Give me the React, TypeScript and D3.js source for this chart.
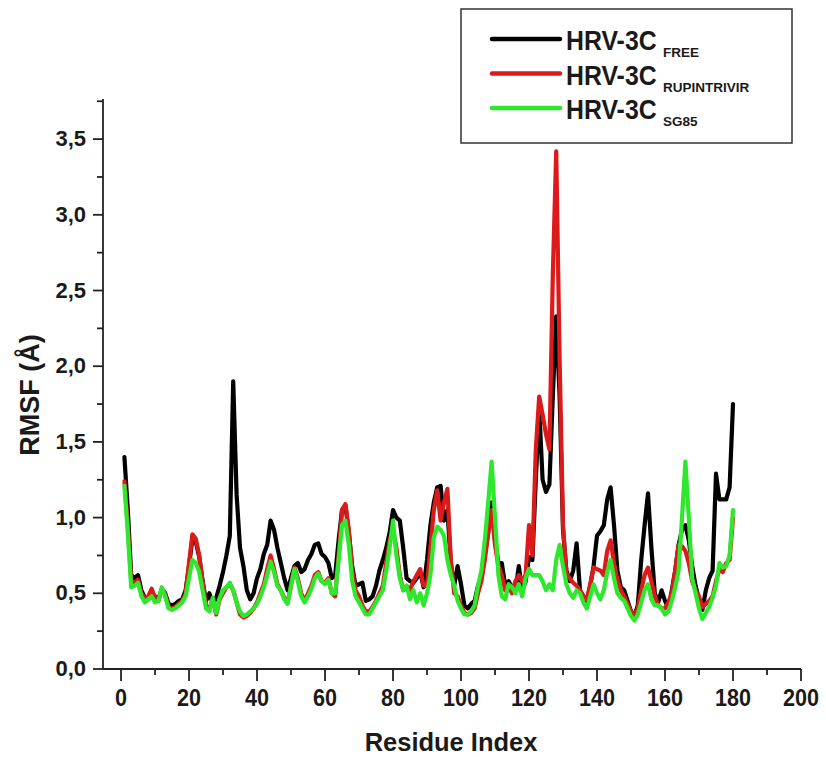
import React from "react";
import * as d3 from "d3";

// RMSF per residue (Å), residues 1..180
const residues: number[] = d3.range(1, 181);

const rmsfFree: number[] = [
  1.40, 1.05, 0.62, 0.60, 0.62, 0.52, 0.47, 0.46, 0.50, 0.48,
  0.46, 0.53, 0.50, 0.43, 0.42, 0.43, 0.45, 0.46, 0.52, 0.68,
  0.86, 0.84, 0.74, 0.58, 0.45, 0.50, 0.43, 0.47, 0.55, 0.64,
  0.75, 0.88, 1.90, 1.15, 0.80, 0.68, 0.52, 0.46, 0.50, 0.60,
  0.66, 0.76, 0.82, 0.98, 0.92, 0.80, 0.70, 0.60, 0.52, 0.60,
  0.68, 0.70, 0.64, 0.66, 0.72, 0.76, 0.82, 0.83, 0.76, 0.74,
  0.70, 0.60, 0.62, 0.85, 1.05, 1.08, 0.90, 0.68, 0.55, 0.56,
  0.57, 0.45, 0.46, 0.48, 0.55, 0.65, 0.72, 0.80, 0.90, 1.05,
  1.00, 0.98, 0.80, 0.60, 0.58, 0.57, 0.60, 0.64, 0.54, 0.72,
  0.95, 1.10, 1.20, 1.21, 0.98, 1.05, 0.70, 0.55, 0.68, 0.56,
  0.42, 0.40, 0.43, 0.45, 0.55, 0.60, 0.75, 0.90, 1.10, 0.85,
  0.70, 0.70, 0.55, 0.58, 0.54, 0.52, 0.68, 0.52, 0.58, 0.74,
  0.72, 1.25, 1.72, 1.25, 1.17, 1.22, 1.80, 2.33, 1.80, 0.92,
  0.65, 0.58, 0.65, 0.83, 0.52, 0.48, 0.45, 0.55, 0.68, 0.88,
  0.91, 0.95, 1.12, 1.20, 0.95, 0.65, 0.54, 0.52, 0.45, 0.38,
  0.35, 0.42, 0.72, 0.95, 1.16, 0.80, 0.50, 0.44, 0.52, 0.45,
  0.40, 0.52, 0.65, 0.82, 0.92, 0.95, 0.85, 0.68, 0.55, 0.46,
  0.39, 0.52, 0.60, 0.65, 1.29, 1.12, 1.12, 1.12, 1.20, 1.75,
];

const rmsfRupintrivir: number[] = [
  1.24, 0.95, 0.58, 0.57, 0.59, 0.50, 0.46, 0.48, 0.53, 0.47,
  0.45, 0.53, 0.49, 0.41, 0.40, 0.41, 0.43, 0.45, 0.50, 0.70,
  0.89, 0.86, 0.75, 0.58, 0.42, 0.40, 0.46, 0.36, 0.46, 0.50,
  0.54, 0.56, 0.52, 0.44, 0.36, 0.34, 0.35, 0.37, 0.40, 0.44,
  0.50, 0.56, 0.66, 0.75, 0.66, 0.56, 0.52, 0.47, 0.44, 0.55,
  0.67, 0.60, 0.50, 0.45, 0.50, 0.55, 0.62, 0.64, 0.58, 0.57,
  0.60, 0.50, 0.48, 0.75, 1.05, 1.09, 0.92, 0.65, 0.52, 0.48,
  0.42, 0.38, 0.38, 0.41, 0.45, 0.50, 0.55, 0.70, 0.85, 0.92,
  0.80, 0.62, 0.52, 0.55, 0.52, 0.58, 0.62, 0.66, 0.55, 0.55,
  0.80, 1.05, 1.18, 0.98, 1.10, 1.19, 0.72, 0.50, 0.48, 0.42,
  0.37, 0.36, 0.37, 0.40, 0.50, 0.58, 0.72, 0.90, 1.05, 0.82,
  0.68, 0.62, 0.52, 0.55, 0.50, 0.58, 0.62, 0.58, 0.62, 0.95,
  0.75, 1.45, 1.80, 1.68, 1.55, 1.45, 2.60, 3.42, 2.05, 0.95,
  0.63, 0.60, 0.57, 0.55, 0.52, 0.48, 0.46, 0.56, 0.67, 0.66,
  0.65, 0.62, 0.78, 0.85, 0.70, 0.59, 0.52, 0.48, 0.43, 0.38,
  0.35, 0.40, 0.52, 0.62, 0.67, 0.58, 0.48, 0.42, 0.40, 0.40,
  0.44, 0.50, 0.65, 0.82, 0.81, 0.78, 0.70, 0.58, 0.52, 0.48,
  0.41, 0.43, 0.45, 0.48, 0.58, 0.66, 0.64, 0.70, 0.72, 1.00,
];

const rmsfSG85: number[] = [
  1.21, 0.90, 0.54, 0.55, 0.57, 0.48, 0.44, 0.46, 0.48, 0.44,
  0.45, 0.54, 0.48, 0.40, 0.39, 0.40, 0.42, 0.44, 0.48, 0.60,
  0.72, 0.70, 0.64, 0.52, 0.40, 0.38, 0.47, 0.37, 0.47, 0.52,
  0.54, 0.57, 0.52, 0.44, 0.38, 0.35, 0.36, 0.38, 0.40, 0.43,
  0.48, 0.54, 0.62, 0.71, 0.64, 0.55, 0.52, 0.46, 0.43, 0.55,
  0.66, 0.58, 0.48, 0.44, 0.48, 0.53, 0.60, 0.63, 0.58, 0.56,
  0.59, 0.50, 0.50, 0.72, 0.95, 0.98, 0.82, 0.58, 0.48, 0.44,
  0.40, 0.36, 0.36, 0.40, 0.44, 0.48, 0.52, 0.65, 0.80, 0.98,
  0.75, 0.60, 0.52, 0.55, 0.46, 0.52, 0.44, 0.50, 0.42, 0.50,
  0.62, 0.87, 0.94, 0.92, 0.88, 0.72, 0.62, 0.55, 0.45, 0.40,
  0.36, 0.36, 0.38, 0.42, 0.55, 0.65, 0.85, 1.10, 1.37, 1.00,
  0.62, 0.48, 0.46, 0.56, 0.54, 0.50, 0.56, 0.48, 0.60, 0.66,
  0.62, 0.62, 0.62, 0.58, 0.52, 0.56, 0.52, 0.72, 0.82, 0.68,
  0.56, 0.50, 0.47, 0.52, 0.50, 0.44, 0.40, 0.48, 0.56, 0.50,
  0.46, 0.52, 0.64, 0.72, 0.60, 0.50, 0.47, 0.45, 0.40, 0.35,
  0.32, 0.36, 0.44, 0.52, 0.56, 0.46, 0.42, 0.42, 0.40, 0.36,
  0.38, 0.45, 0.54, 0.65, 1.00, 1.37, 1.00, 0.60, 0.50, 0.40,
  0.33, 0.37, 0.41, 0.47, 0.55, 0.70, 0.67, 0.68, 0.75, 1.05,
];

const xTicks: number[] = [0, 20, 40, 60, 80, 100, 120, 140, 160, 180, 200];
const yTicks: number[] = [0, 0.5, 1, 1.5, 2, 2.5, 3, 3.5];

const seriesNames: string[] = ["FREE", "RUPINTRIVIR", "SG85"];
const seriesColors: string[] = ["#000000", "#dc1a1a", "#2ee82e"];

const W = 826;
const H = 757;
const FONT = "'Liberation Sans', Arial, Helvetica, sans-serif";

const x = d3.scaleLinear().domain([-5.3, 200]).range([103, 801]);
const y = d3.scaleLinear().domain([0, 3.765]).range([669, 99]);

const line = d3
  .line<[number, number]>()
  .x((d) => x(d[0]))
  .y((d) => y(d[1]));

const allSeries: number[][] = [rmsfFree, rmsfRupintrivir, rmsfSG85];

function SText(props: {
  x: number;
  y: number;
  sx?: number;
  size: number;
  anchor?: string;
  children: React.ReactNode;
}) {
  const { sx = 1 } = props;
  return (
    <g transform={`translate(${props.x},${props.y}) scale(${sx},1)`}>
      <text
        x={0}
        y={0}
        fontFamily={FONT}
        fontWeight="bold"
        fontSize={props.size}
        textAnchor={props.anchor || "start"}
        fill="#1a1a1a"
      >
        {props.children}
      </text>
    </g>
  );
}

export default function App() {
  const xMinor = d3.range(0, 201, 10);
  const yMinor = d3.range(0, 3.76, 0.25);
  const [x0, x1] = x.range();
  const [y0, y1] = y.range();

  return (
    <svg
      width={W}
      height={H}
      style={{ position: "absolute", left: 0, top: 0, background: "#fff" }}
    >
      <rect x={0} y={0} width={W} height={H} fill="#fff" />

      {/* data lines */}
      <g fill="none" strokeWidth={4.2} strokeLinejoin="round" strokeLinecap="round">
        {allSeries.map((vals, k) => (
          <path
            key={seriesNames[k]}
            d={line(residues.map((r, i) => [r, vals[i]] as [number, number])) || ""}
            stroke={seriesColors[k]}
          />
        ))}
      </g>

      {/* axes */}
      <g stroke="#222" strokeWidth={1.8} fill="none">
        <line x1={x0} y1={y0} x2={x0} y2={y1} />
        <line x1={x0} y1={y0} x2={x1} y2={y0} />
        {yMinor.map((v) => {
          const major = Math.abs(v * 2 - Math.round(v * 2)) < 1e-6;
          return (
            <line key={`ym${v}`} x1={x0 - (major ? 10 : 6)} x2={x0} y1={y(v)} y2={y(v)} />
          );
        })}
        {xMinor.map((v) => {
          const major = v % 20 === 0;
          return (
            <line key={`xm${v}`} x1={x(v)} x2={x(v)} y1={y0} y2={y0 + (major ? 12 : 6)} />
          );
        })}
      </g>

      {/* tick labels */}
      {yTicks.map((v) => (
        <SText key={`yl${v}`} x={86} y={y(v) + 7} size={22} anchor="end">
          {v.toFixed(1).replace(".", ",")}
        </SText>
      ))}
      {xTicks.map((v) => (
        <SText key={`xl${v}`} x={x(v)} y={706} size={24} sx={0.9} anchor="middle">
          {String(v)}
        </SText>
      ))}

      {/* axis titles */}
      <SText x={451} y={751} size={26} sx={0.98} anchor="middle">
        Residue Index
      </SText>
      <g transform="translate(39,395) rotate(-90)">
        <text
          x={0}
          y={0}
          fontFamily={FONT}
          fontWeight="bold"
          fontSize={27}
          textAnchor="middle"
          fill="#1a1a1a"
        >
          RMSF (Å)
        </text>
      </g>

      {/* legend */}
      <rect x={461} y={9} width={331} height={134} fill="#fff" stroke="#333" strokeWidth={1.5} />
      {seriesNames.map((name, k) => {
        const cy = 39 + k * 34.5;
        return (
          <g key={`lg${name}`}>
            <line
              x1={492}
              x2={560}
              y1={cy}
              y2={cy}
              stroke={seriesColors[k]}
              strokeWidth={4.5}
              strokeLinecap="round"
            />
            <SText x={566} y={cy + 11} size={27} sx={0.92}>
              HRV-3C
            </SText>
            <SText x={663} y={cy + 18} size={13.5}>
              {name}
            </SText>
          </g>
        );
      })}
    </svg>
  );
}
